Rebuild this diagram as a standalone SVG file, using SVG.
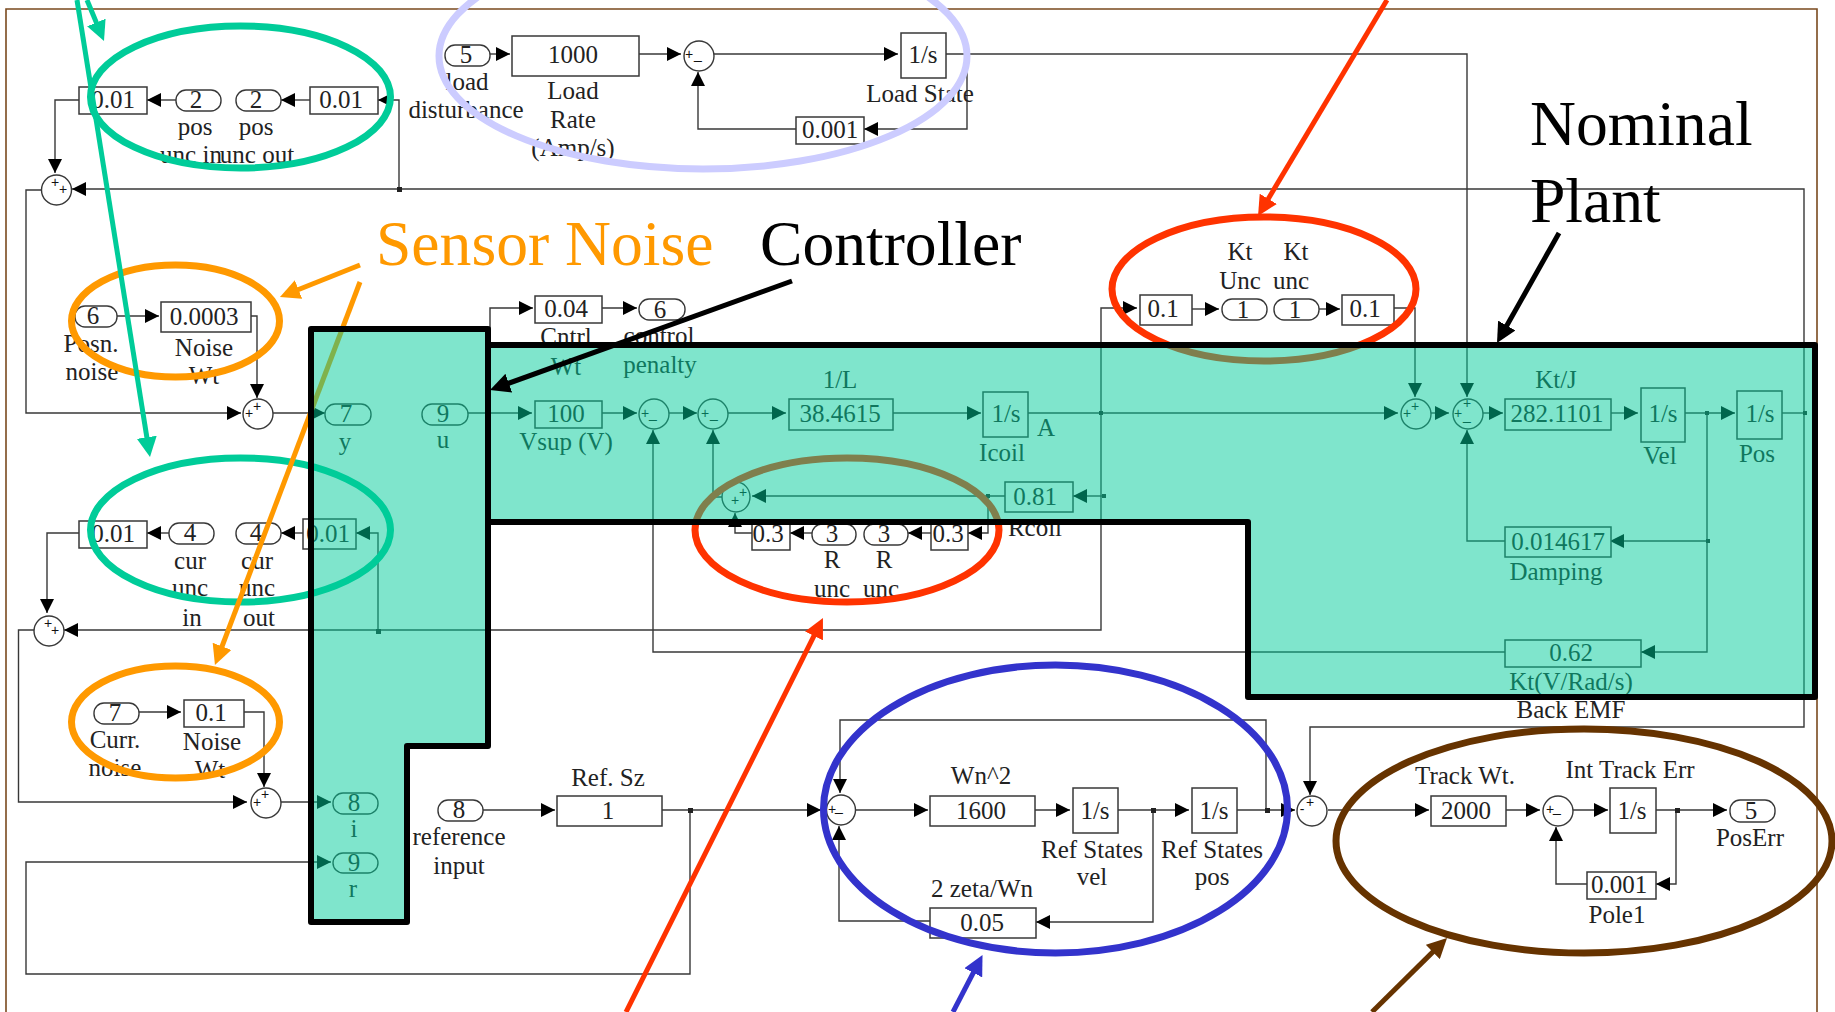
<svg xmlns="http://www.w3.org/2000/svg" width="1835" height="1012" viewBox="0 0 1835 1012">
<style>
text{font-family:"Liberation Serif","Times New Roman",serif;font-size:25px;text-anchor:middle;fill:#222}
text.s{font-family:"Liberation Sans",Arial,sans-serif;font-size:14px;fill:#111}
text.big{font-size:63.6px;text-anchor:start;fill:#000}
text.or{fill:#FF9900}
.w{fill:none;stroke:#383838;stroke-width:1.4;marker-end:url(#a)}
.n{fill:none;stroke:#383838;stroke-width:1.4}
.b{fill:#fff;stroke:#383838;stroke-width:1.5}
.p{fill:#fff;stroke:#383838;stroke-width:1.4}
.e{fill:none;stroke-width:7}
.l{fill:none;stroke-width:5}
.hl{fill:#00CC99;fill-opacity:.5;stroke:#000;stroke-width:6;stroke-linejoin:round}
</style>
<defs>
<marker id="a" markerUnits="userSpaceOnUse" markerWidth="14" markerHeight="14" refX="14" refY="7" orient="auto"><path d="M0 0L14 7L0 14Z" fill="#000"/></marker>
<marker id="g" markerUnits="userSpaceOnUse" markerWidth="20" markerHeight="20" refX="8" refY="10" orient="auto"><path d="M0 0L20 10L0 20Z" fill="#00CC99"/></marker>
<marker id="o" markerUnits="userSpaceOnUse" markerWidth="20" markerHeight="20" refX="8" refY="10" orient="auto"><path d="M0 0L20 10L0 20Z" fill="#FF9900"/></marker>
<marker id="k" markerUnits="userSpaceOnUse" markerWidth="20" markerHeight="20" refX="8" refY="10" orient="auto"><path d="M0 0L20 10L0 20Z" fill="#000"/></marker>
<marker id="r" markerUnits="userSpaceOnUse" markerWidth="20" markerHeight="20" refX="8" refY="10" orient="auto"><path d="M0 0L20 10L0 20Z" fill="#FF3300"/></marker>
<marker id="u" markerUnits="userSpaceOnUse" markerWidth="20" markerHeight="20" refX="8" refY="10" orient="auto"><path d="M0 0L20 10L0 20Z" fill="#3333CC"/></marker>
<marker id="h" markerUnits="userSpaceOnUse" markerWidth="20" markerHeight="20" refX="8" refY="10" orient="auto"><path d="M0 0L20 10L0 20Z" fill="#663300"/></marker>
</defs>
<rect width="1835" height="1012" fill="#fff"/>
<path id="frame" d="M6 1012V9H1817V1012" fill="none" stroke="#7a4a1e" stroke-width="1.6"/>
<g id="connectors">
<polyline class="w" points="399,189 399,100 378,100"/>
<polyline class="w" points="310,100 281,100"/>
<polyline class="w" points="176,100 147,100"/>
<polyline class="w" points="79,100 55,100 55,173"/>
<polyline class="w" points="1804,413 1804,189 72,189"/>
<polyline class="w" points="1804,413 1804,727 1310,727 1310,795"/>
<polyline class="w" points="41,190 26,190 26,413 241,413"/>
<polyline class="w" points="117,316 159,316"/>
<polyline class="w" points="251,316 257,316 257,398"/>
<polyline class="w" points="273,413 325,413"/>
<polyline class="w" points="468,413 532,413"/>
<polyline class="w" points="490,413 490,308 533,308"/>
<polyline class="w" points="602,308 637,308"/>
<polyline class="w" points="490,54 510,54"/>
<polyline class="w" points="639,54 681,54"/>
<polyline class="w" points="714,54 898,54"/>
<polyline class="w" points="946,54 1467,54 1467,397"/>
<polyline class="w" points="967,54 967,129 864,129"/>
<polyline class="w" points="796,129 698,129 698,72"/>
<polyline class="w" points="602,413 637,413"/>
<polyline class="w" points="669,413 697,413"/>
<polyline class="w" points="728,413 786,413"/>
<polyline class="w" points="893,413 981,413"/>
<polyline class="w" points="1028,413 1398,413"/>
<polyline class="w" points="1431,413 1449,413"/>
<polyline class="w" points="1483,413 1503,413"/>
<polyline class="w" points="1611,413 1638,413"/>
<polyline class="w" points="1685,413 1735,413"/>
<polyline class="n" points="1782,413 1805,413"/>
<polyline class="w" points="1101,413 1101,630 64,630"/>
<polyline class="w" points="1101,413 1101,308 1137,308"/>
<polyline class="w" points="1104,496 1073,496"/>
<polyline class="w" points="1192,309 1219,309"/>
<polyline class="w" points="1319,309 1340,309"/>
<polyline class="w" points="1394,308 1415,308 1415,397"/>
<polyline class="w" points="1707,413 1707,652 1641,652"/>
<polyline class="w" points="1707,541 1610,541"/>
<polyline class="w" points="1505,541 1467,541 1467,430"/>
<polyline class="w" points="1505,652 653,652 653,430"/>
<polyline class="w" points="722,497 713,497 713,430"/>
<polyline class="w" points="1005,496 752,496"/>
<polyline class="w" points="988,496 988,533 968,533"/>
<polyline class="w" points="931,533 908,533"/>
<polyline class="w" points="812,533 790,533"/>
<polyline class="w" points="752,533 735,533 735,513"/>
<polyline class="w" points="79,533 47,533 47,613"/>
<polyline class="w" points="303,533 281,533"/>
<polyline class="w" points="169,533 147,533"/>
<polyline class="w" points="378,630 378,533 356,533"/>
<polyline class="w" points="35,630 18.5,630 18.5,802 247,802"/>
<polyline class="w" points="281,802 331,802"/>
<polyline class="w" points="690,810 690,974 26,974 26,862 331,862"/>
<polyline class="w" points="139,712 181,712"/>
<polyline class="w" points="244,712 264,712 264,787"/>
<polyline class="w" points="483,810 555,810"/>
<polyline class="w" points="661,810 821,810"/>
<polyline class="w" points="856,810 928,810"/>
<polyline class="w" points="1035,810 1070,810"/>
<polyline class="w" points="1118,810 1189,810"/>
<polyline class="w" points="1237,810 1295,810"/>
<polyline class="w" points="1153,810 1153,922 1036,922"/>
<polyline class="w" points="930,921 839,921 839,826"/>
<polyline class="w" points="1266,810 1266,720 840,720 840,793"/>
<polyline class="w" points="1328,810 1429,810"/>
<polyline class="w" points="1506,810 1540,810"/>
<polyline class="w" points="1573,810 1608,810"/>
<polyline class="w" points="1656,810 1727,810"/>
<polyline class="w" points="1676,810 1676,884 1656,884"/>
<polyline class="w" points="1587,884 1556,884 1556,827"/>
<g fill="#222">
<rect x="397" y="187" width="5" height="5"/><rect x="376" y="629" width="5" height="5"/><rect x="1099" y="411" width="4" height="4"/><rect x="1102" y="494" width="4" height="4"/><rect x="1705" y="411" width="4" height="4"/><rect x="1706" y="539" width="4" height="4"/><rect x="1803" y="411" width="4" height="4"/><rect x="986" y="494" width="4" height="4"/><rect x="688" y="808" width="5" height="5"/><rect x="1151" y="808" width="5" height="5"/><rect x="1265" y="808" width="5" height="5"/><rect x="1675" y="808" width="5" height="5"/>
</g>
</g>
<g id="posUncGainIn"><rect class="b" x="79" y="87" width="68" height="27"/><text x="113" y="108">0.01</text></g>
<g id="posUncIn"><rect class="p" x="176" y="90" width="45" height="21" rx="10"/><text x="196" y="108">2</text><text x="195" y="135">pos</text><text x="191" y="163">unc in</text></g>
<g id="posUncOut"><rect class="p" x="236" y="90" width="45" height="21" rx="10"/><text x="256" y="108">2</text><text x="256" y="135">pos</text><text x="257" y="163">unc out</text></g>
<g id="posUncGainOut"><rect class="b" x="310" y="87" width="68" height="27"/><text x="341" y="108">0.01</text></g>
<g id="sum1"><ellipse class="p" cx="56.5" cy="190" rx="15" ry="15"/><text class="s" x="55" y="187">+</text><text class="s" x="63" y="194">+</text></g>
<g id="loadDist"><rect class="p" x="445" y="45" width="45" height="21" rx="10"/><text x="466" y="63">5</text><text x="467" y="90">load</text><text x="466" y="118">disturbance</text></g>
<g id="loadRate"><rect class="b" x="512" y="36" width="127" height="40"/><text x="573" y="63">1000</text><text x="573" y="99">Load</text><text x="573" y="128">Rate</text><text x="573" y="156">(Amp/s)</text></g>
<g id="sumLoad"><ellipse class="p" cx="699" cy="56" rx="15" ry="15"/><text class="s" x="689" y="59">+</text><text class="s" x="698" y="59">_</text></g>
<g id="loadState"><rect class="b" x="901" y="33" width="45" height="45"/><text x="923" y="63">1/s</text><text x="920" y="102">Load State</text></g>
<g id="loadPole"><rect class="b" x="796" y="117" width="68" height="27"/><text x="830" y="138">0.001</text></g>
<g id="posnNoise"><rect class="p" x="75" y="306" width="42" height="21" rx="10"/><text x="93" y="324">6</text><text x="91" y="352">Posn.</text><text x="92" y="380">noise</text></g>
<g id="noiseWt1"><rect class="b" x="161" y="302" width="90" height="30"/><text x="204" y="325">0.0003</text><text x="204" y="356">Noise</text><text x="204" y="384">Wt</text></g>
<g id="sum2"><ellipse class="p" cx="258" cy="414" rx="15" ry="15"/><text class="s" x="257" y="411">+</text><text class="s" x="249" y="418">+</text></g>
<g id="portY"><rect class="p" x="325" y="404" width="46" height="21" rx="10"/><text x="346" y="422">7</text><text x="345" y="450">y</text></g>
<g id="portU"><rect class="p" x="422" y="404" width="46" height="21" rx="10"/><text x="443" y="422">9</text><text x="443" y="448">u</text></g>
<g id="cntrlWt"><rect class="b" x="535" y="296" width="67" height="27"/><text x="566" y="317">0.04</text><text x="566" y="345">Cntrl</text><text x="566" y="375">Wt</text></g>
<g id="controlPenalty"><rect class="p" x="639" y="299" width="46" height="21" rx="10"/><text x="660" y="318">6</text><text x="659" y="344">control</text><text x="660" y="373">penalty</text></g>
<g id="vsup"><rect class="b" x="535" y="401" width="67" height="27"/><text x="566" y="422">100</text><text x="566" y="450">Vsup (V)</text></g>
<g id="sumA"><ellipse class="p" cx="654" cy="414" rx="15" ry="15"/><text class="s" x="645" y="418">+</text><text class="s" x="653" y="418">_</text></g>
<g id="sumB"><ellipse class="p" cx="713" cy="414" rx="15" ry="15"/><text class="s" x="705" y="418">+</text><text class="s" x="714" y="418">_</text></g>
<g id="oneOverL"><rect class="b" x="789" y="399" width="104" height="31"/><text x="840" y="422">38.4615</text><text x="840" y="388">1/L</text></g>
<g id="icoil"><rect class="b" x="983" y="392" width="45" height="45"/><text x="1006" y="422">1/s</text><text x="1002" y="461">Icoil</text><text x="1046" y="436">A</text></g>
<g id="ktUncIn"><rect class="b" x="1140" y="295" width="52" height="30"/><text x="1163" y="317">0.1</text></g>
<g id="ktPortA"><rect class="p" x="1222" y="299" width="45" height="21" rx="10"/><text x="1243" y="318">1</text><text x="1240" y="260">Kt</text><text x="1240" y="289">Unc</text></g>
<g id="ktPortB"><rect class="p" x="1274" y="299" width="45" height="21" rx="10"/><text x="1295" y="318">1</text><text x="1296" y="260">Kt</text><text x="1291" y="289">unc</text></g>
<g id="ktUncOut"><rect class="b" x="1342" y="295" width="52" height="30"/><text x="1365" y="317">0.1</text></g>
<g id="sumC"><ellipse class="p" cx="1416" cy="414" rx="15" ry="15"/><text class="s" x="1415" y="411">+</text><text class="s" x="1407" y="418">+</text></g>
<g id="sumD"><ellipse class="p" cx="1468" cy="414" rx="15" ry="15"/><text class="s" x="1467" y="408">+</text><text class="s" x="1458" y="418">+</text><text class="s" x="1467" y="420">_</text></g>
<g id="ktj"><rect class="b" x="1505" y="399" width="106" height="31"/><text x="1557" y="422">282.1101</text><text x="1556" y="388">Kt/J</text></g>
<g id="vel"><rect class="b" x="1641" y="388" width="44" height="54"/><text x="1663" y="422">1/s</text><text x="1660" y="464">Vel</text></g>
<g id="pos"><rect class="b" x="1737" y="391" width="45" height="48"/><text x="1760" y="422">1/s</text><text x="1757" y="462">Pos</text></g>
<g id="rcoil"><rect class="b" x="1005" y="482" width="68" height="30"/><text x="1035" y="505">0.81</text><text x="1035" y="536">Rcoil</text></g>
<g id="sumR"><ellipse class="p" cx="736" cy="497" rx="14" ry="15"/><text class="s" x="743" y="497">+</text><text class="s" x="735" y="505">+</text></g>
<g id="rUncIn"><rect class="b" x="752" y="522" width="38" height="28"/><text x="768" y="542">0.3</text></g>
<g id="rPortA"><rect class="p" x="812" y="524" width="44" height="21" rx="10"/><text x="832" y="542">3</text><text x="832" y="568">R</text><text x="832" y="597">unc</text></g>
<g id="rPortB"><rect class="p" x="864" y="524" width="44" height="21" rx="10"/><text x="884" y="542">3</text><text x="884" y="568">R</text><text x="881" y="597">unc</text></g>
<g id="rUncOut"><rect class="b" x="931" y="522" width="37" height="28"/><text x="948" y="542">0.3</text></g>
<g id="damping"><rect class="b" x="1505" y="527" width="106" height="30"/><text x="1558" y="550">0.014617</text><text x="1556" y="580">Damping</text></g>
<g id="backEmf"><rect class="b" x="1505" y="640" width="136" height="27"/><text x="1571" y="661">0.62</text><text x="1571" y="690">Kt(V/Rad/s)</text><text x="1571" y="718">Back EMF</text></g>
<g id="curUncGainIn"><rect class="b" x="79" y="521" width="68" height="27"/><text x="113" y="542">0.01</text></g>
<g id="curUncIn"><rect class="p" x="169" y="523" width="45" height="21" rx="10"/><text x="190" y="541">4</text><text x="190" y="569">cur</text><text x="190" y="596">unc</text><text x="192" y="626">in</text></g>
<g id="curUncOut"><rect class="p" x="236" y="523" width="45" height="21" rx="10"/><text x="256" y="541">4</text><text x="257" y="569">cur</text><text x="257" y="596">unc</text><text x="259" y="626">out</text></g>
<g id="curUncGainOut"><rect class="b" x="303" y="519" width="53" height="30"/><text x="328" y="542">0.01</text></g>
<g id="sum3"><ellipse class="p" cx="49" cy="631" rx="15" ry="15"/><text class="s" x="48" y="628">+</text><text class="s" x="55" y="635">+</text></g>
<g id="currNoise"><rect class="p" x="94" y="703" width="45" height="21" rx="10"/><text x="115" y="721">7</text><text x="115" y="748">Curr.</text><text x="115" y="776">noise</text></g>
<g id="noiseWt2"><rect class="b" x="184" y="700" width="60" height="27"/><text x="211" y="721">0.1</text><text x="212" y="750">Noise</text><text x="210" y="778">Wt</text></g>
<g id="sum4"><ellipse class="p" cx="266" cy="803" rx="15" ry="15"/><text class="s" x="265" y="799">+</text><text class="s" x="257" y="807">+</text></g>
<g id="portI"><rect class="p" x="333" y="793" width="45" height="21" rx="10"/><text x="354" y="811">8</text><text x="354" y="837">i</text></g>
<g id="portR"><rect class="p" x="333" y="853" width="45" height="20" rx="10"/><text x="354" y="871">9</text><text x="353" y="897">r</text></g>
<g id="refInput"><rect class="p" x="438" y="800" width="45" height="21" rx="10"/><text x="459" y="818">8</text><text x="459" y="845">reference</text><text x="459" y="874">input</text></g>
<g id="refSz"><rect class="b" x="557" y="796" width="105" height="30"/><text x="608" y="819">1</text><text x="608" y="786">Ref. Sz</text></g>
<g id="sumRef"><ellipse class="p" cx="841" cy="810" rx="14.5" ry="15"/><text class="s" x="832" y="814">+</text><text class="s" x="839" y="811">_</text></g>
<g id="wn2"><rect class="b" x="930" y="796" width="105" height="30"/><text x="981" y="819">1600</text><text x="981" y="784">Wn^2</text></g>
<g id="refVel"><rect class="b" x="1073" y="788" width="45" height="45"/><text x="1095" y="819">1/s</text><text x="1092" y="858">Ref States</text><text x="1092" y="885">vel</text></g>
<g id="refPos"><rect class="b" x="1192" y="788" width="45" height="45"/><text x="1214" y="819">1/s</text><text x="1212" y="858">Ref States</text><text x="1212" y="885">pos</text></g>
<g id="zeta"><rect class="b" x="930" y="908" width="106" height="30"/><text x="982" y="931">0.05</text><text x="982" y="897">2 zeta/Wn</text></g>
<g id="sumErr"><ellipse class="p" cx="1312" cy="811" rx="15" ry="15"/><text class="s" x="1310" y="807">+</text><text class="s" x="1302" y="814">-</text></g>
<g id="trackWt"><rect class="b" x="1431" y="796" width="75" height="30"/><text x="1466" y="819">2000</text><text x="1465" y="784">Track Wt.</text></g>
<g id="sumInt"><ellipse class="p" cx="1558" cy="811" rx="15" ry="15"/><text class="s" x="1550" y="814">+</text><text class="s" x="1557" y="812">_</text></g>
<g id="intTrack"><rect class="b" x="1610" y="788" width="46" height="45"/><text x="1632" y="819">1/s</text><text x="1630" y="778">Int Track Err</text></g>
<g id="pole1"><rect class="b" x="1587" y="872" width="69" height="27"/><text x="1619" y="893">0.001</text><text x="1617" y="923">Pole1</text></g>
<g id="posErr"><rect class="p" x="1730" y="800" width="45" height="22" rx="10"/><text x="1751" y="819">5</text><text x="1750" y="846">PosErr</text></g>
<g id="annotations">
<ellipse class="e" cx="240.5" cy="97" rx="150" ry="71" stroke="#00CC99"/>
<ellipse class="e" cx="240.5" cy="530" rx="150" ry="72" stroke="#00CC99"/>
<ellipse class="e" cx="175.5" cy="321" rx="104" ry="56" stroke="#FF9900"/>
<ellipse class="e" cx="175.5" cy="722" rx="104" ry="56" stroke="#FF9900"/>
<ellipse class="e" cx="703" cy="56" rx="264" ry="113" stroke="#CCCCFF"/>
<ellipse class="e" cx="1264" cy="289" rx="152" ry="72" stroke="#FF3300"/>
<ellipse class="e" cx="847" cy="530" rx="152" ry="72" stroke="#FF3300"/>
<ellipse class="e" cx="1055.5" cy="809" rx="232" ry="144" stroke="#3333CC"/>
<ellipse class="e" cx="1584" cy="841" rx="248" ry="112" stroke="#663300"/>
<line class="l" x1="77" y1="0" x2="148.1" y2="445.2" stroke="#00CC99" marker-end="url(#g)"/>
<line class="l" x1="87" y1="0" x2="99.4" y2="29.9" stroke="#00CC99" marker-end="url(#g)"/>
<line class="l" x1="360" y1="265" x2="291.1" y2="292.5" stroke="#FF9900" marker-end="url(#o)"/>
<line class="l" x1="360" y1="282" x2="219.2" y2="653.8" stroke="#FF9900" marker-end="url(#o)"/>
<line class="l" x1="1387" y1="0" x2="1264.2" y2="205.7" stroke="#FF3300" marker-end="url(#r)"/>
<line class="l" x1="626" y1="1012" x2="817.6" y2="628.7" stroke="#FF3300" marker-end="url(#r)"/>
<line class="l" x1="953" y1="1012" x2="977" y2="965.7" stroke="#3333CC" marker-end="url(#u)"/>
<line class="l" x1="1372" y1="1012" x2="1438.5" y2="946.4" stroke="#663300" marker-end="url(#h)"/>
</g>
<path id="plantBlock" class="hl" d="M488 345H1815V697H1248V522H488Z"/>
<path id="controllerBlock" class="hl" d="M311 329H488V746H407V922H311Z"/>
<line class="l" x1="792" y1="281" x2="501.3" y2="385.9" stroke="#000" marker-end="url(#k)"/>
<line class="l" x1="1559" y1="233" x2="1502.9" y2="332.5" stroke="#000" marker-end="url(#k)"/>
<text class="big or" x="376" y="265">Sensor Noise</text>
<text class="big" x="760" y="265">Controller</text>
<text class="big" x="1530" y="145">Nominal</text>
<text class="big" x="1530" y="222">Plant</text>
</svg>
